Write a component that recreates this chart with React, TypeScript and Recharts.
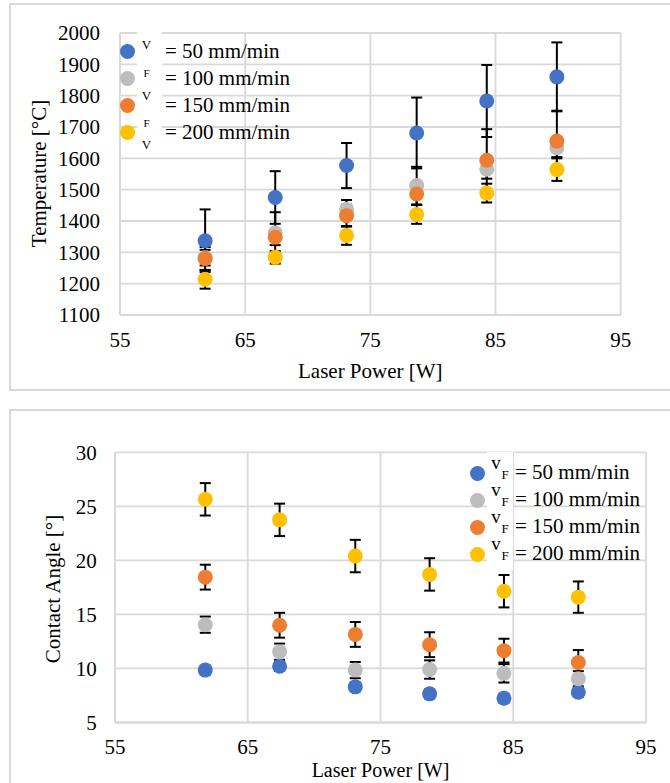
import React from 'react';
import { ScatterChart, Scatter, XAxis, YAxis, CartesianGrid, ErrorBar, Legend } from 'recharts';

const FONT = "'Liberation Serif', 'Times New Roman', serif";
const GRID = '#D9D9D9';
const COLORS = ['#4472C4', '#BDBDBD', '#ED7D31', '#FFC000'];

// ---- data ----
const laserPower = [61.8, 67.4, 73.1, 78.7, 84.3, 89.9];
const feedSpeeds = [50, 100, 150, 200];
const seriesLabels = feedSpeeds.map((s) => `= ${s} mm/min`);
const xTicks = [55, 65, 75, 85, 95];
const tempTicks = [1100, 1200, 1300, 1400, 1500, 1600, 1700, 1800, 1900, 2000];
const angleTicks = [5, 10, 15, 20, 25, 30];

const temp50 = [1337, 1475, 1577, 1681, 1783, 1860];
const temp50Err = [100, 84, 72, 113, 115, 110];
const temp100 = [1283, 1362, 1437, 1513, 1565, 1634];
const temp100Err = [25, 66, 30, 60, 30, 30];
const temp150 = [1280, 1348, 1417, 1486, 1594, 1655];
const temp150Err = [37, 25, 35, 35, 99, 97];
const temp200 = [1214, 1284, 1354, 1421, 1489, 1564];
const temp200Err = [30, 20, 30, 30, 30, 36];

const angle50 = [9.85, 10.2, 8.3, 7.65, 7.25, 7.8];
const angle50Err = [0.4, 0.4, 0.4, 0.4, 0.4, 0.4];
const angle100 = [14.05, 11.55, 9.85, 9.9, 9.55, 9.05];
const angle100Err = [0.75, 0.75, 0.75, 0.85, 0.85, 0.7];
const angle150 = [18.45, 14.0, 13.15, 12.2, 11.65, 10.55];
const angle150Err = [1.15, 1.15, 1.15, 1.15, 1.1, 1.15];
const angle200 = [25.65, 23.75, 20.4, 18.7, 17.15, 16.6];
const angle200Err = [1.5, 1.5, 1.5, 1.5, 1.5, 1.45];

const build = (ys: number[], errs: number[]) =>
  laserPower.map((x, i) => ({ x, y: ys[i], err: errs[i] }));

const tempSeries = [
  build(temp50, temp50Err),
  build(temp100, temp100Err),
  build(temp150, temp150Err),
  build(temp200, temp200Err),
];
const angleSeries = [
  build(angle50, angle50Err),
  build(angle100, angle100Err),
  build(angle150, angle150Err),
  build(angle200, angle200Err),
];

// ---- helpers ----
const Dot = (color: string) => (props: any) =>
  props.cx == null ? null : <circle cx={props.cx} cy={props.cy} r={7.5} fill={color} />;

const VTitle = ({ text, cx, cy }: any) => (
  <text x={cx} y={cy} transform={`rotate(-90 ${cx} ${cy})`} textAnchor="middle"
    style={{ fontFamily: FONT }} fontSize={21} fill="#000">{text}</text>
);
const HTitle = ({ text, cx, cy, fs = 21 }: any) => (
  <text x={cx} y={cy} textAnchor="middle" style={{ fontFamily: FONT }} fontSize={fs} fill="#000">{text}</text>
);

const tickStyle = { fill: '#000', fontSize: 21, fontFamily: FONT, style: { fontFamily: FONT } };

const orderPayload = (payload: any[]) =>
  [...payload].sort((a, b) => seriesLabels.indexOf(a.value) - seriesLabels.indexOf(b.value));

const TopLegend = (props: any) => {
  const payload = orderPayload(props.payload || []);
  const letters = [
    { ch: 'V', y: 45, fs: 13 },
    { ch: 'F', y: 73.5, fs: 11 },
    { ch: 'V', y: 96, fs: 13 },
    { ch: 'F', y: 124, fs: 11 },
    { ch: 'V', y: 145, fs: 13 },
  ];
  return (
    <div style={{ position: 'relative', width: 670, height: 395, fontFamily: FONT, color: '#000' }}>
      <div style={{ position: 'absolute', left: 137, top: 31, width: 25, height: 121, background: '#fff' }} />
      {payload.map((p: any, i: number) => {
        const cy = 51.3 + 27 * i;
        return (
          <React.Fragment key={i}>
            <div style={{ position: 'absolute', left: 120, top: cy - 7.5, width: 15, height: 15, borderRadius: '50%', background: p.color }} />
            <div style={{ position: 'absolute', left: 165, top: cy - 10.6, fontSize: 21, lineHeight: '21px', whiteSpace: 'nowrap' }}>{p.value}</div>
          </React.Fragment>
        );
      })}
      {letters.map((l, j) => (
        <div key={'l' + j} style={{ position: 'absolute', left: 136.5, width: 20, textAlign: 'center', top: l.y - 0.507 * l.fs, fontSize: l.fs, lineHeight: l.fs + 'px' }}>{l.ch}</div>
      ))}
    </div>
  );
};

const BottomLegend = (props: any) => {
  const payload = orderPayload(props.payload || []);
  return (
    <div style={{ position: 'relative', width: 670, height: 388, fontFamily: FONT, color: '#000' }}>
      <div style={{ position: 'absolute', left: 487, top: 57, width: 26, height: 118, background: '#fff' }} />
      {payload.map((p: any, i: number) => {
        const cy = 78 + 27 * i;
        return (
          <React.Fragment key={i}>
            <div style={{ position: 'absolute', left: 469.5, top: cy - 7.5, width: 15, height: 15, borderRadius: '50%', background: p.color }} />
            <div style={{ position: 'absolute', left: 486, width: 20, textAlign: 'center', top: cy - 8.5 - 0.6125 * 19, fontSize: 19, lineHeight: '19px' }}>v</div>
            <div style={{ position: 'absolute', left: 495, width: 20, textAlign: 'center', top: cy + 2 - 0.507 * 13, fontSize: 13, lineHeight: '13px' }}>F</div>
            <div style={{ position: 'absolute', left: 515, top: cy - 10.6, fontSize: 21, lineHeight: '21px', whiteSpace: 'nowrap' }}>{p.value}</div>
          </React.Fragment>
        );
      })}
    </div>
  );
};

export default function App() {
  return (
    <div style={{ position: 'absolute', left: 0, top: 0, width: 670, height: 783, background: '#fff', overflow: 'hidden', fontFamily: FONT }}>
      <div style={{ position: 'absolute', left: 9, top: 3, width: 661, height: 388, boxSizing: 'border-box', borderLeft: `2px solid ${GRID}`, borderTop: `2px solid ${GRID}`, borderBottom: `2px solid ${GRID}` }} />
      <div style={{ position: 'absolute', left: 9, top: 409, width: 661, height: 374, boxSizing: 'border-box', borderLeft: `2px solid ${GRID}`, borderTop: `2px solid ${GRID}` }} />

      <div style={{ position: 'absolute', left: 0, top: 0 }}>
        <ScatterChart width={670} height={395} margin={{ top: 33, right: 49.3, bottom: 0, left: 0 }} style={{ fontFamily: FONT }}>
          <CartesianGrid stroke={GRID} strokeWidth={1.8} />
          <XAxis type="number" dataKey="x" domain={[55, 95]} ticks={xTicks} interval={0}
            height={80} tickSize={0} tickMargin={17.5} tickLine={false}
            axisLine={{ stroke: GRID, strokeWidth: 2 }} tick={tickStyle}
            label={<HTitle text="Laser Power [W]" cx={370.3} cy={378.3} />} />
          <YAxis type="number" dataKey="y" domain={[1100, 2000]} ticks={tempTicks} interval={0}
            width={120} tickSize={0} tickMargin={20} tickLine={false}
            axisLine={{ stroke: GRID, strokeWidth: 2 }} tick={tickStyle}
            label={<VTitle text="Temperature [°C]" cx={46} cy={173.5} />} />
          {tempSeries.map((d, i) => (
            <Scatter key={i} name={seriesLabels[i]} data={d} fill={COLORS[i]}
              shape={Dot(COLORS[i])} isAnimationActive={false}>
              <ErrorBar dataKey="err" direction="y" width={5.5} stroke="#000" strokeWidth={2} isAnimationActive={false} />
            </Scatter>
          ))}
          <Legend content={TopLegend} layout="horizontal" verticalAlign="middle" align="center"
            wrapperStyle={{ left: 0, top: 0, width: 670, height: 395 }} />
        </ScatterChart>
      </div>

      <div style={{ position: 'absolute', left: 0, top: 395 }}>
        <ScatterChart width={670} height={388} margin={{ top: 57.3, right: 24, bottom: 0, left: 0 }} style={{ fontFamily: FONT }}>
          <CartesianGrid stroke={GRID} strokeWidth={1.8} />
          <XAxis type="number" dataKey="x" domain={[55, 95]} ticks={xTicks} interval={0}
            height={60.5} tickSize={0} tickMargin={16.5} tickLine={false}
            axisLine={{ stroke: GRID, strokeWidth: 2 }} tick={tickStyle}
            label={<HTitle text="Laser Power [W]" cx={380.5} cy={382} fs={20} />} />
          <YAxis type="number" dataKey="y" domain={[5, 30]} ticks={angleTicks} interval={0}
            width={115} tickSize={0} tickMargin={18.3} tickLine={false}
            axisLine={{ stroke: GRID, strokeWidth: 2 }} tick={tickStyle}
            label={<VTitle text="Contact Angle [°]" cx={60} cy={194} />} />
          {angleSeries.map((d, i) => (
            <Scatter key={i} name={seriesLabels[i]} data={d} fill={COLORS[i]}
              shape={Dot(COLORS[i])} isAnimationActive={false}>
              <ErrorBar dataKey="err" direction="y" width={5.5} stroke="#000" strokeWidth={2} isAnimationActive={false} />
            </Scatter>
          ))}
          <Legend content={BottomLegend} layout="horizontal" verticalAlign="middle" align="center"
            wrapperStyle={{ left: 0, top: 0, width: 670, height: 388 }} />
        </ScatterChart>
      </div>
    </div>
  );
}
